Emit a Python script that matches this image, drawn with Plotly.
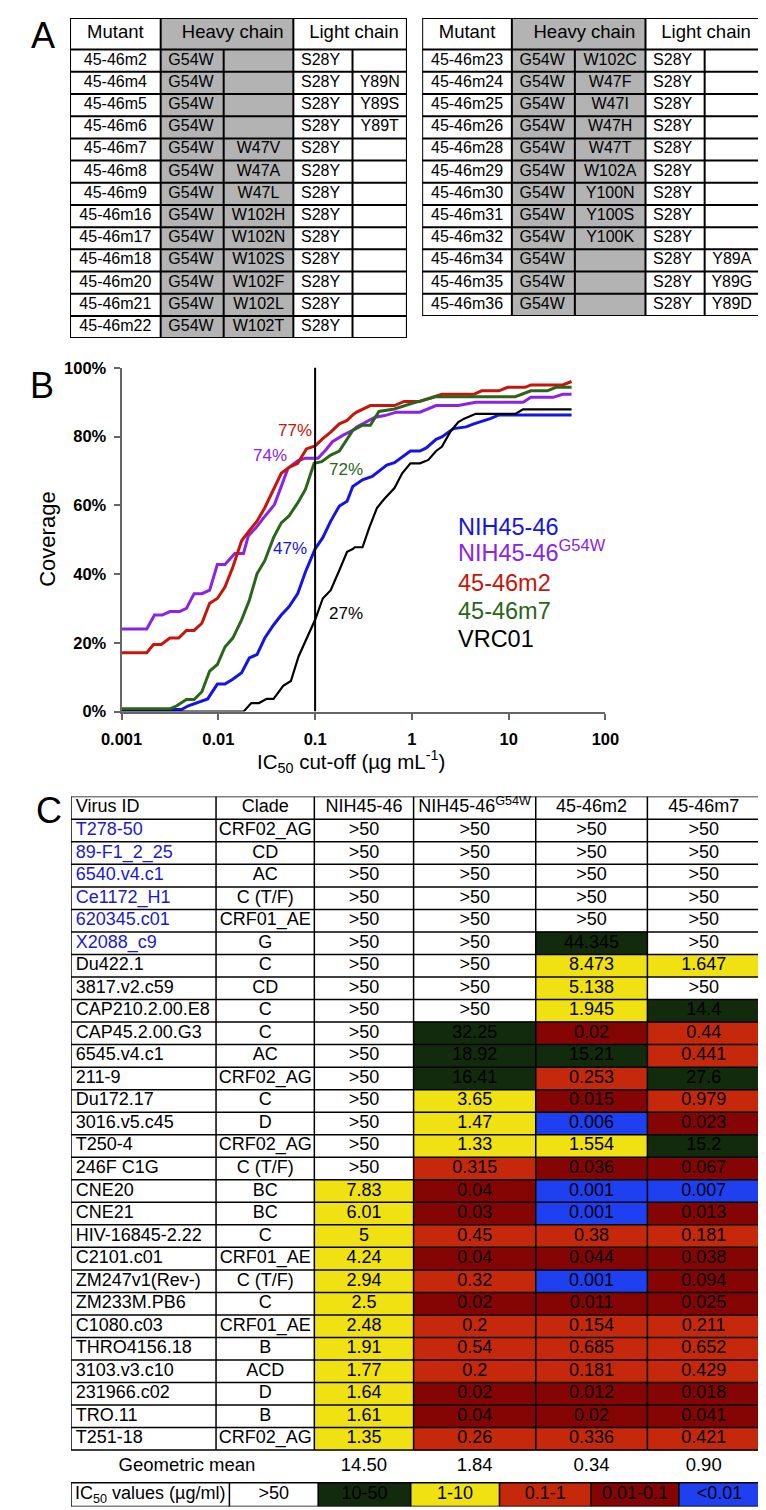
import math
import plotly.graph_objects as go

W, H = 766, 1510
SANS = "Liberation Sans, Arial, Helvetica, sans-serif"

# ===================== DATA =====================
# ---- Panel A, left table ----
A1_MUTANT = ["45-46m2", "45-46m4", "45-46m5", "45-46m6", "45-46m7", "45-46m8", "45-46m9",
             "45-46m16", "45-46m17", "45-46m18", "45-46m20", "45-46m21", "45-46m22"]
A1_HEAVY1 = ["G54W", "G54W", "G54W", "G54W", "G54W", "G54W", "G54W",
             "G54W", "G54W", "G54W", "G54W", "G54W", "G54W"]
A1_HEAVY2 = ["", "", "", "", "W47V", "W47A", "W47L", "W102H", "W102N", "W102S", "W102F", "W102L", "W102T"]
A1_LIGHT1 = ["S28Y", "S28Y", "S28Y", "S28Y", "S28Y", "S28Y", "S28Y",
             "S28Y", "S28Y", "S28Y", "S28Y", "S28Y", "S28Y"]
A1_LIGHT2 = ["", "Y89N", "Y89S", "Y89T", "", "", "", "", "", "", "", "", ""]

# ---- Panel A, right table ----
A2_MUTANT = ["45-46m23", "45-46m24", "45-46m25", "45-46m26", "45-46m28", "45-46m29", "45-46m30",
             "45-46m31", "45-46m32", "45-46m34", "45-46m35", "45-46m36"]
A2_HEAVY1 = ["G54W", "G54W", "G54W", "G54W", "G54W", "G54W", "G54W",
             "G54W", "G54W", "G54W", "G54W", "G54W"]
A2_HEAVY2 = ["W102C", "W47F", "W47I", "W47H", "W47T", "W102A", "Y100N", "Y100S", "Y100K", "", "", ""]
A2_LIGHT1 = ["S28Y", "S28Y", "S28Y", "S28Y", "S28Y", "S28Y", "S28Y",
             "S28Y", "S28Y", "S28Y", "S28Y", "S28Y"]
A2_LIGHT2 = ["", "", "", "", "", "", "", "", "", "Y89A", "Y89G", "Y89D"]
A_HEADERS = ["Mutant", "Heavy chain", "Light chain"]

# ---- Panel B: coverage curves (IC50 cut-off in ug/mL, fraction covered) ----
SERIES = ["NIH45-46", "NIH45-46<sup>G54W</sup>", "45-46m2", "45-46m7", "VRC01"]

NIH_X = [0.001, 0.00417, 0.0049, 0.00617, 0.00776, 0.00977, 0.0117, 0.0141, 0.0174, 0.0209,
         0.0251, 0.0302, 0.0372, 0.0447, 0.0537, 0.0661, 0.0794, 0.1, 0.12, 0.145, 0.178,
         0.214, 0.245, 0.309, 0.389, 0.55, 0.661, 0.966, 1.21, 1.41, 1.78, 2.04, 2.69, 3.63,
         4.37, 6.46, 7.94, 44.7]
NIH_Y = [0.006, 0.006, 0.017, 0.027, 0.037, 0.08, 0.08, 0.094, 0.113, 0.156,
         0.166, 0.214, 0.252, 0.281, 0.305, 0.343, 0.406, 0.473, 0.506, 0.554, 0.598,
         0.612, 0.655, 0.674, 0.684, 0.717, 0.724, 0.758, 0.758, 0.767, 0.792, 0.799, 0.823, 0.828,
         0.837, 0.852, 0.863, 0.863]

G54W_X = [0.001, 0.00182, 0.00219, 0.00263, 0.00316, 0.00398, 0.00468, 0.00562, 0.00676, 0.00813,
          0.00977, 0.0117, 0.0148, 0.0182, 0.0204, 0.0245, 0.0295, 0.038, 0.0447, 0.0525,
          0.0661, 0.0794, 0.107, 0.129, 0.151, 0.195, 0.245, 0.269, 0.417, 0.525, 0.692,
          1.21, 1.78, 3.02, 4.57, 14.1, 17.0, 28.8, 36.3, 44.7]
G54W_Y = [0.24, 0.24, 0.281, 0.281, 0.291, 0.291, 0.30, 0.343, 0.343, 0.353,
          0.428, 0.428, 0.46, 0.46, 0.511, 0.535, 0.564, 0.602, 0.655, 0.708,
          0.729, 0.737, 0.737, 0.761, 0.785, 0.804, 0.818, 0.828, 0.856, 0.861, 0.871,
          0.871, 0.89, 0.89, 0.90, 0.90, 0.914, 0.914, 0.923, 0.923]

M2_X = [0.001, 0.00182, 0.00214, 0.00257, 0.00316, 0.00389, 0.00468, 0.00562, 0.00676, 0.00813,
        0.00977, 0.0117, 0.0141, 0.0174, 0.0209, 0.0251, 0.0302, 0.0372, 0.0447, 0.0537,
        0.0661, 0.0813, 0.1, 0.12, 0.145, 0.178, 0.214, 0.245, 0.269, 0.372, 0.661, 0.832,
        1.2, 2.04, 4.37, 5.25, 7.94, 9.77, 14.8, 17.0, 36.3, 44.7]
M2_Y = [0.171, 0.171, 0.195, 0.195, 0.214, 0.214, 0.236, 0.236, 0.257, 0.315,
        0.329, 0.362, 0.42, 0.497, 0.526, 0.554, 0.593, 0.646, 0.693, 0.71,
        0.722, 0.764, 0.773, 0.794, 0.813, 0.837, 0.847, 0.863, 0.871, 0.89, 0.89, 0.902,
        0.902, 0.923, 0.923, 0.933, 0.933, 0.943, 0.943, 0.95, 0.95, 0.96]

M7_X = [0.001, 0.00316, 0.00372, 0.00468, 0.00562, 0.00676, 0.00813, 0.00977, 0.0117, 0.0141,
        0.0174, 0.0209, 0.0251, 0.0302, 0.0372, 0.0447, 0.0537, 0.0661, 0.0794, 0.0977,
        0.117, 0.145, 0.178, 0.214, 0.245, 0.309, 0.372, 0.457, 0.661, 0.966, 1.41, 1.78,
        11.7, 17.0, 25.1, 30.9, 44.7]
M7_Y = [0.008, 0.008, 0.017, 0.035, 0.035, 0.058, 0.118, 0.137, 0.188, 0.214,
        0.267, 0.324, 0.401, 0.439, 0.506, 0.549, 0.569, 0.607, 0.646, 0.722,
        0.727, 0.746, 0.758, 0.794, 0.818, 0.833, 0.833, 0.873, 0.88, 0.895, 0.909, 0.916,
        0.916, 0.933, 0.933, 0.943, 0.943]

VRC_X = [0.001, 0.0182, 0.0219, 0.0263, 0.0316, 0.0372, 0.0468, 0.0562, 0.0676, 0.0832,
         0.1, 0.12, 0.145, 0.178, 0.214, 0.245, 0.257, 0.309, 0.363, 0.437, 0.513, 0.661,
         0.794, 0.966, 1.21, 1.48, 1.78, 2.04, 2.51, 3.02, 3.47, 4.57, 11.7, 14.1, 44.7]
VRC_Y = [0.0, 0.0, 0.025, 0.025, 0.037, 0.037, 0.075, 0.089, 0.161, 0.219,
         0.267, 0.329, 0.353, 0.411, 0.465, 0.473, 0.478, 0.478, 0.535, 0.593, 0.617, 0.65,
         0.693, 0.722, 0.722, 0.732, 0.758, 0.77, 0.815, 0.842, 0.852, 0.866, 0.866, 0.879, 0.879]

CUTOFF = 0.1
AT_CUTOFF = [0.47, 0.74, 0.77, 0.72, 0.27]
X_TICKS = [0.001, 0.01, 0.1, 1, 10, 100]
X_TICK_LABELS = ["0.001", "0.01", "0.1", "1", "10", "100"]
Y_TICKS = [0, 0.2, 0.4, 0.6, 0.8, 1.0]
Y_TICK_LABELS = ["0%", "20%", "40%", "60%", "80%", "100%"]

# ---- Panel C table ----
C_HEADERS = ["Virus ID", "Clade", "NIH45-46", "NIH45-46<sup>G54W</sup>", "45-46m2", "45-46m7"]
VIRUS = ["T278-50", "89-F1_2_25", "6540.v4.c1", "Ce1172_H1", "620345.c01", "X2088_c9",
         "Du422.1", "3817.v2.c59", "CAP210.2.00.E8", "CAP45.2.00.G3", "6545.v4.c1", "211-9",
         "Du172.17", "3016.v5.c45", "T250-4", "246F C1G", "CNE20", "CNE21", "HIV-16845-2.22",
         "C2101.c01", "ZM247v1(Rev-)", "ZM233M.PB6", "C1080.c03", "THRO4156.18", "3103.v3.c10",
         "231966.c02", "TRO.11", "T251-18"]
CLADE = ["CRF02_AG", "CD", "AC", "C (T/F)", "CRF01_AE", "G", "C", "CD", "C", "C", "AC", "CRF02_AG",
         "C", "D", "CRF02_AG", "C (T/F)", "BC", "BC", "C", "CRF01_AE", "C (T/F)", "C", "CRF01_AE",
         "B", "ACD", "D", "B", "CRF02_AG"]
IC50_NIH = [">50", ">50", ">50", ">50", ">50", ">50", ">50", ">50", ">50", ">50", ">50", ">50",
            ">50", ">50", ">50", ">50", "7.83", "6.01", "5", "4.24", "2.94", "2.5", "2.48",
            "1.91", "1.77", "1.64", "1.61", "1.35"]
IC50_G54W = [">50", ">50", ">50", ">50", ">50", ">50", ">50", ">50", ">50", "32.25", "18.92", "16.41",
             "3.65", "1.47", "1.33", "0.315", "0.04", "0.03", "0.45", "0.04", "0.32", "0.02", "0.2",
             "0.54", "0.2", "0.02", "0.04", "0.26"]
IC50_M2 = [">50", ">50", ">50", ">50", ">50", "44.345", "8.473", "5.138", "1.945", "0.02", "15.21", "0.253",
           "0.015", "0.006", "1.554", "0.036", "0.001", "0.001", "0.38", "0.044", "0.001", "0.011", "0.154",
           "0.685", "0.181", "0.012", "0.02", "0.336"]
IC50_M7 = [">50", ">50", ">50", ">50", ">50", ">50", "1.647", ">50", "14.4", "0.44", "0.441", "27.6",
           "0.979", "0.023", "15.2", "0.067", "0.007", "0.013", "0.181", "0.038", "0.094", "0.025", "0.211",
           "0.652", "0.429", "0.018", "0.041", "0.421"]
RESISTANT_IDS = ["T278-50", "89-F1_2_25", "6540.v4.c1", "Ce1172_H1", "620345.c01", "X2088_c9"]
GEOMEAN_LABEL = "Geometric mean"
GEOMEAN = ["14.50", "1.84", "0.34", "0.90"]
KEY_LABELS = ["IC<sub>50</sub> values (µg/ml)", ">50", "10-50", "1-10", "0.1-1", "0.01-0.1", "<0.01"]

# ===================== STYLE =====================
LINE_COLORS = ["#1414e6", "#8b22e6", "#c8140a", "#2a661a", "#000000"]
LINE_WIDTHS = [3, 3, 3, 3, 2.2]
LABEL_OFFSETS = [("right", -6, 1.5), ("right", -26, 1.5), ("right", -1, 16), ("left", 12, -5), ("left", 12, 5)]
GREY = "#b3b3b3"
CELL_COLORS = ["#ffffff", "#132b0d", "#f0e112", "#c5280b", "#850505", "#1e40f0"]
KEY_CODES = [0, 0, 1, 2, 3, 4, 5]
ID_BLUE = "#1a1acc"

A_HEADER_H, A_ROW_H = 32, 22.46
A1_BOX = (43, 1)
A2_BOX = (412, 1)
A1_WIDTHS = [95, 66, 73, 62, 57]
A2_WIDTHS = [94, 66, 74, 62, 57]
C_BOX = (44, 789)
C_WIDTHS = [152, 103, 104, 128, 117, 118]
KEY_WIDTHS = [166, 93, 97, 93, 96, 92, 85]
C_HEADER_H, C_ROW_H = 23, 22.8
C_GEO_H, C_KEY_H = 33, 24

fig = go.Figure()


def cumsum(start, sizes):
    out = [start]
    for s in sizes:
        out.append(out[-1] + s)
    return out


def table_axes(n, left, top, width, height):
    fig.update_layout(**{
        f"xaxis{n}": dict(domain=[left / W, (left + width) / W], range=[0, width], visible=False,
                          fixedrange=True, anchor=f"y{n}"),
        f"yaxis{n}": dict(domain=[1 - (top + height) / H, 1 - top / H], range=[height, 0], visible=False,
                          fixedrange=True, anchor=f"x{n}"),
    })
    return f"x{n}", f"y{n}"


def fill_trace(xa, ya, xe, ye, z, colors):
    n = len(colors)
    cs = []
    for i, c in enumerate(colors):
        cs += [[i / n, c], [(i + 1) / n, c]]
    return go.Heatmap(x=xe, y=ye, z=z, zmin=-0.5, zmax=n - 0.5, colorscale=cs, showscale=False,
                      hoverinfo="skip", xaxis=xa, yaxis=ya)


def grid_trace(xa, ya, segs, width=1.6):
    xs, ys = [], []
    for x0, y0, x1, y1 in segs:
        xs += [x0, x1, None]
        ys += [y0, y1, None]
    return go.Scatter(x=xs, y=ys, mode="lines", line=dict(color="black", width=width), xaxis=xa, yaxis=ya,
                      hoverinfo="skip", showlegend=False, cliponaxis=False)


def text_trace(xa, ya, xs, ys, texts, size, colors="black", pos="middle center"):
    keep = [i for i, t in enumerate(texts) if t != ""]
    if not isinstance(colors, str):
        colors = [colors[i] for i in keep]
    return go.Scatter(x=[xs[i] for i in keep], y=[ys[i] for i in keep], text=[texts[i] for i in keep],
                      mode="text", textposition=pos,
                      textfont=dict(family=SANS, size=size, color=colors), xaxis=xa, yaxis=ya,
                      hoverinfo="skip", showlegend=False, cliponaxis=False)


def build_table_a(n, box, widths, cols):
    nrows = len(cols[0])
    xa, ya = table_axes(n, box[0], box[1], sum(widths), A_HEADER_H + A_ROW_H * nrows)
    xe = cumsum(0, widths)
    ye = cumsum(0, [A_HEADER_H] + [A_ROW_H] * nrows)
    z = [[1 if j in (1, 2) else 0 for j in range(len(widths))] for _ in range(nrows + 1)]
    fig.add_trace(fill_trace(xa, ya, xe, ye, z, ["#ffffff", GREY]))
    segs = [(xe[0], y, xe[-1], y) for y in ye]
    for j, x in enumerate(xe):
        segs.append((x, ye[1] if j in (2, 4) else ye[0], x, ye[-1]))
    fig.add_trace(grid_trace(xa, ya, segs, width=2))
    hy = (ye[0] + ye[1]) / 2
    fig.add_trace(text_trace(xa, ya, [(xe[0] + xe[1]) / 2, (xe[1] + xe[3]) / 2 + 6, (xe[3] + xe[5]) / 2 + 4],
                             [hy, hy, hy], A_HEADERS, 18.5))
    yc = [(ye[i + 1] + ye[i + 2]) / 2 for i in range(nrows)]
    mode = ["c", "l", "c", "l", "c"]
    for j, col in enumerate(cols):
        if mode[j] == "c":
            xs = [(xe[j] + xe[j + 1]) / 2] * nrows
            pos = "middle center"
        else:
            xs = [xe[j] + 8] * nrows
            pos = "middle right"
        fig.add_trace(text_trace(xa, ya, xs, yc, col, 16, pos=pos))


build_table_a(2, A1_BOX, A1_WIDTHS, [A1_MUTANT, A1_HEAVY1, A1_HEAVY2, A1_LIGHT1, A1_LIGHT2])
build_table_a(3, A2_BOX, A2_WIDTHS, [A2_MUTANT, A2_HEAVY1, A2_HEAVY2, A2_LIGHT1, A2_LIGHT2])

# ---------- Panel B ----------
xs_all = [NIH_X, G54W_X, M2_X, M7_X, VRC_X]
ys_all = [NIH_Y, G54W_Y, M2_Y, M7_Y, VRC_Y]
for name, xs, ys, col, lw in zip(SERIES, xs_all, ys_all, LINE_COLORS, LINE_WIDTHS):
    fig.add_trace(go.Scatter(x=xs, y=ys, mode="lines", name=name, line=dict(color=col, width=lw),
                             showlegend=False, hoverinfo="skip", xaxis="x", yaxis="y"))
fig.add_trace(go.Scatter(x=[CUTOFF, CUTOFF], y=[0, 1.015], mode="lines", line=dict(color="black", width=2),
                         showlegend=False, hoverinfo="skip", cliponaxis=False, xaxis="x", yaxis="y"))

annotations = []
for v, col, (xanc, xs_, ys_) in zip(AT_CUTOFF, LINE_COLORS, LABEL_OFFSETS):
    annotations.append(dict(x=math.log10(CUTOFF), y=v, xref="x", yref="y", text=f"{round(v * 100)}%",
                            showarrow=False, xanchor=xanc, yanchor="middle", xshift=xs_, yshift=ys_,
                            font=dict(family=SANS, size=17, color=col)))
for i, (name, col) in enumerate(zip(SERIES, LINE_COLORS)):
    annotations.append(dict(x=447 / W, y=1 - (516 + 28.4 * i) / H, xref="paper", yref="paper", text=name,
                            showarrow=False, xanchor="left", yanchor="middle",
                            yshift=(4 if "<sup>" in name else 0),
                            font=dict(family=SANS, size=23.5, color=col)))
annotations.append(dict(x=20 / W, y=1 - 529 / H, xref="paper", yref="paper", text="Coverage", textangle=-90,
                        showarrow=False, xanchor="center", yanchor="middle",
                        font=dict(family=SANS, size=22, color="black")))
annotations.append(dict(x=337 / W, y=1 - 753 / H, xref="paper", yref="paper",
                        text="IC<sub>50</sub> cut-off (µg mL<sup>-1</sup>)",
                        showarrow=False, xanchor="center", yanchor="middle",
                        font=dict(family=SANS, size=20.5, color="black")))
for lab, px, py in [("A", 15, 19), ("B", 14, 373), ("C", 21, 803)]:
    annotations.append(dict(x=px / W, y=1 - py / H, xref="paper", yref="paper", text=lab, showarrow=False,
                            xanchor="center", yanchor="middle", font=dict(family=SANS, size=36, color="black")))

# ---------- Panel C ----------
def code_of(s):
    if s.startswith(">"):
        return 0
    v = float(s)
    if v >= 10:
        return 1
    if v >= 1:
        return 2
    if v >= 0.1:
        return 3
    if v >= 0.01:
        return 4
    return 5


nrows = len(VIRUS)
c_height = C_HEADER_H + C_ROW_H * nrows + C_GEO_H + C_KEY_H
xa, ya = table_axes(4, C_BOX[0], C_BOX[1], sum(C_WIDTHS), c_height)
xe = cumsum(0, C_WIDTHS)
ye = cumsum(0, [C_HEADER_H] + [C_ROW_H] * nrows)
value_cols = [IC50_NIH, IC50_G54W, IC50_M2, IC50_M7]
z = [[0] * 6]
for i in range(nrows):
    z.append([0, 0] + [code_of(col[i]) for col in value_cols])
fig.add_trace(fill_trace(xa, ya, xe, ye, z, CELL_COLORS))
segs = [(xe[0], y, xe[-1], y) for y in ye] + [(x, ye[0], x, ye[-1]) for x in xe]
key_top = ye[-1] + C_GEO_H
key_bot = key_top + C_KEY_H
ke = cumsum(0, KEY_WIDTHS)
fig.add_trace(fill_trace(xa, ya, ke, [key_top, key_bot], [KEY_CODES], CELL_COLORS))
segs += [(ke[0], key_top, ke[-1], key_top), (ke[0], key_bot, ke[-1], key_bot)]
segs += [(x, key_top, x, key_bot) for x in ke]
fig.add_trace(grid_trace(xa, ya, segs, width=1.5))

hy = (ye[0] + ye[1]) / 2
fig.add_trace(text_trace(xa, ya, [xe[0] + 5], [hy], [C_HEADERS[0]], 18, pos="middle right"))
fig.add_trace(text_trace(xa, ya, [(xe[j] + xe[j + 1]) / 2 for j in range(1, 6)], [hy] * 5, C_HEADERS[1:], 18))
yc = [(ye[i + 1] + ye[i + 2]) / 2 for i in range(nrows)]
fig.add_trace(text_trace(xa, ya, [xe[0] + 5] * nrows, yc, VIRUS, 18,
                         colors=[ID_BLUE if v in RESISTANT_IDS else "black" for v in VIRUS], pos="middle right"))
for j, col in enumerate([CLADE] + value_cols):
    fig.add_trace(text_trace(xa, ya, [(xe[j + 1] + xe[j + 2]) / 2] * nrows, yc, col, 18))
gy = ye[-1] + C_GEO_H / 2
fig.add_trace(text_trace(xa, ya, [(xe[0] + xe[2]) / 2 - 6] + [(xe[j] + xe[j + 1]) / 2 for j in range(2, 6)],
                         [gy] * 5, [GEOMEAN_LABEL] + GEOMEAN, 18.5))
ky = (key_top + key_bot) / 2
fig.add_trace(text_trace(xa, ya, [(ke[j] + ke[j + 1]) / 2 for j in range(len(KEY_LABELS))],
                         [ky] * len(KEY_LABELS), KEY_LABELS, 18))

fig.update_layout(
    width=W, height=H, autosize=False,
    margin=dict(l=0, r=0, t=0, b=0),
    paper_bgcolor="white", plot_bgcolor="white",
    showlegend=False,
    annotations=annotations,
    xaxis=dict(type="log", range=[-3, 2], domain=[97 / W, 604 / W], showgrid=False, zeroline=False,
               showline=True, linecolor="#666666", linewidth=2, ticks="outside", ticklen=6, tickwidth=2,
               tickcolor="#666666", tickvals=X_TICKS, ticktext=X_TICK_LABELS, ticklabelstandoff=6,
               tickfont=dict(family=SANS, size=16.5, color="black", weight="bold"), anchor="y", fixedrange=True),
    yaxis=dict(range=[0, 1], domain=[1 - 703 / H, 1 - 355 / H], showgrid=False, zeroline=False,
               showline=True, linecolor="#666666", linewidth=2, ticks="outside", ticklen=6, tickwidth=2,
               tickcolor="#666666", tickvals=Y_TICKS, ticktext=Y_TICK_LABELS, ticklabelstandoff=4,
               tickfont=dict(family=SANS, size=16.5, color="black", weight="bold"), anchor="x", fixedrange=True),
)

fig.write_html("out.html")
